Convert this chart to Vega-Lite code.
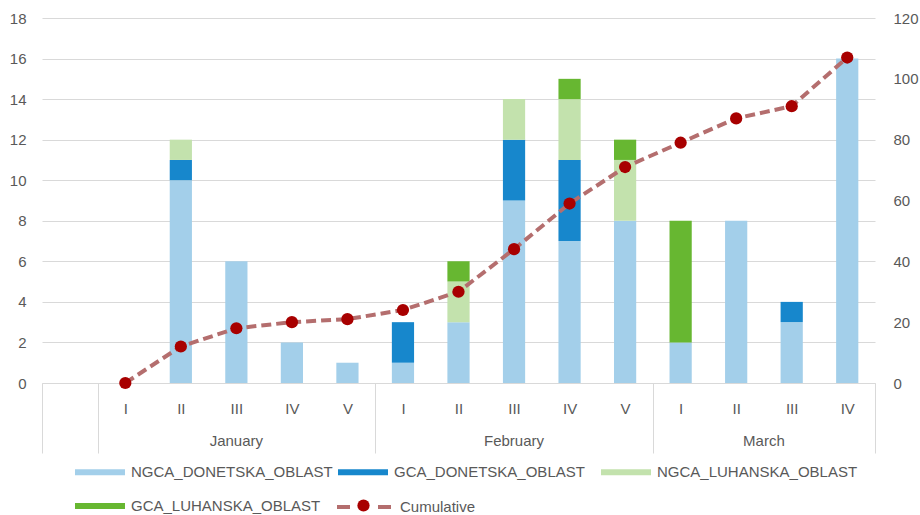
{
  "$schema": "https://vega.github.io/schema/vega-lite/v6.json",
  "width": 833,
  "height": 365,
  "autosize": {"type": "none"},
  "padding": {"left": 42, "top": 18, "right": 45, "bottom": 132},
  "background": "white",
  "config": {
    "font": "Liberation Sans",
    "view": {"stroke": null},
    "axis": {"labelColor": "#595959", "labelFontSize": 15, "labelFont": "Liberation Sans"},
    "legend": {"labelColor": "#595959", "labelFontSize": 15, "labelFont": "Liberation Sans", "padding": 0}
  },
  "datasets": {
    "bars": [
      {"cat": "January|II", "series": "NGCA_DONETSKA_OBLAST", "control": "NGCA", "region": "DONETSKA", "count": 10},
      {"cat": "January|II", "series": "GCA_DONETSKA_OBLAST", "control": "GCA", "region": "DONETSKA", "count": 1},
      {"cat": "January|II", "series": "NGCA_LUHANSKA_OBLAST", "control": "NGCA", "region": "LUHANSKA", "count": 1},
      {"cat": "January|III", "series": "NGCA_DONETSKA_OBLAST", "control": "NGCA", "region": "DONETSKA", "count": 6},
      {"cat": "January|IV", "series": "NGCA_DONETSKA_OBLAST", "control": "NGCA", "region": "DONETSKA", "count": 2},
      {"cat": "January|V", "series": "NGCA_DONETSKA_OBLAST", "control": "NGCA", "region": "DONETSKA", "count": 1},
      {"cat": "February|I", "series": "NGCA_DONETSKA_OBLAST", "control": "NGCA", "region": "DONETSKA", "count": 1},
      {"cat": "February|I", "series": "GCA_DONETSKA_OBLAST", "control": "GCA", "region": "DONETSKA", "count": 2},
      {"cat": "February|II", "series": "NGCA_DONETSKA_OBLAST", "control": "NGCA", "region": "DONETSKA", "count": 3},
      {"cat": "February|II", "series": "NGCA_LUHANSKA_OBLAST", "control": "NGCA", "region": "LUHANSKA", "count": 2},
      {"cat": "February|II", "series": "GCA_LUHANSKA_OBLAST", "control": "GCA", "region": "LUHANSKA", "count": 1},
      {"cat": "February|III", "series": "NGCA_DONETSKA_OBLAST", "control": "NGCA", "region": "DONETSKA", "count": 9},
      {"cat": "February|III", "series": "GCA_DONETSKA_OBLAST", "control": "GCA", "region": "DONETSKA", "count": 3},
      {"cat": "February|III", "series": "NGCA_LUHANSKA_OBLAST", "control": "NGCA", "region": "LUHANSKA", "count": 2},
      {"cat": "February|IV", "series": "NGCA_DONETSKA_OBLAST", "control": "NGCA", "region": "DONETSKA", "count": 7},
      {"cat": "February|IV", "series": "GCA_DONETSKA_OBLAST", "control": "GCA", "region": "DONETSKA", "count": 4},
      {"cat": "February|IV", "series": "NGCA_LUHANSKA_OBLAST", "control": "NGCA", "region": "LUHANSKA", "count": 3},
      {"cat": "February|IV", "series": "GCA_LUHANSKA_OBLAST", "control": "GCA", "region": "LUHANSKA", "count": 1},
      {"cat": "February|V", "series": "NGCA_DONETSKA_OBLAST", "control": "NGCA", "region": "DONETSKA", "count": 8},
      {"cat": "February|V", "series": "NGCA_LUHANSKA_OBLAST", "control": "NGCA", "region": "LUHANSKA", "count": 3},
      {"cat": "February|V", "series": "GCA_LUHANSKA_OBLAST", "control": "GCA", "region": "LUHANSKA", "count": 1},
      {"cat": "March|I", "series": "NGCA_DONETSKA_OBLAST", "control": "NGCA", "region": "DONETSKA", "count": 2},
      {"cat": "March|I", "series": "GCA_LUHANSKA_OBLAST", "control": "GCA", "region": "LUHANSKA", "count": 6},
      {"cat": "March|II", "series": "NGCA_DONETSKA_OBLAST", "control": "NGCA", "region": "DONETSKA", "count": 8},
      {"cat": "March|III", "series": "NGCA_DONETSKA_OBLAST", "control": "NGCA", "region": "DONETSKA", "count": 3},
      {"cat": "March|III", "series": "GCA_DONETSKA_OBLAST", "control": "GCA", "region": "DONETSKA", "count": 1},
      {"cat": "March|IV", "series": "NGCA_DONETSKA_OBLAST", "control": "NGCA", "region": "DONETSKA", "count": 16}
    ],
    "cum": [
      {"cat": "January|I", "month": "January", "period": "I", "Cumulative": 0},
      {"cat": "January|II", "month": "January", "period": "II", "Cumulative": 12},
      {"cat": "January|III", "month": "January", "period": "III", "Cumulative": 18},
      {"cat": "January|IV", "month": "January", "period": "IV", "Cumulative": 20},
      {"cat": "January|V", "month": "January", "period": "V", "Cumulative": 21},
      {"cat": "February|I", "month": "February", "period": "I", "Cumulative": 24},
      {"cat": "February|II", "month": "February", "period": "II", "Cumulative": 30},
      {"cat": "February|III", "month": "February", "period": "III", "Cumulative": 44},
      {"cat": "February|IV", "month": "February", "period": "IV", "Cumulative": 59},
      {"cat": "February|V", "month": "February", "period": "V", "Cumulative": 71},
      {"cat": "March|I", "month": "March", "period": "I", "Cumulative": 79},
      {"cat": "March|II", "month": "March", "period": "II", "Cumulative": 87},
      {"cat": "March|III", "month": "March", "period": "III", "Cumulative": 91},
      {"cat": "March|IV", "month": "March", "period": "IV", "Cumulative": 107}
    ]
  },
  "layer": [
    {
      "layer": [
        {
          "data": {"name": "bars"},
          "transform": [
            {
              "stack": "count",
              "groupby": ["cat"],
              "sort": [{"field": "region", "order": "ascending"}, {"field": "control", "order": "descending"}],
              "as": ["lo", "hi"]
            }
          ],
          "mark": {"type": "bar", "width": {"band": 0.4}},
          "encoding": {
            "x": {
              "field": "cat", "type": "nominal", "title": null,
              "scale": {
                "domain": ["start", "January|I", "January|II", "January|III", "January|IV", "January|V", "February|I", "February|II", "February|III", "February|IV", "February|V", "March|I", "March|II", "March|III", "March|IV"],
                "paddingInner": 0, "paddingOuter": 0
              },
              "axis": {
                "title": null,
                "labelAngle": 0,
                "labelExpr": "indexof(datum.label, '|') >= 0 ? split(datum.label, '|')[1] : ''",
                "domainColor": "#D9D9D9",
                "domainWidth": 1,
                "grid": false,
                "ticks": true,
                "tickBand": "extent",
                "tickSize": 70,
                "tickColor": "#D9D9D9",
                "tickWidth": 1,
                "tickOpacity": {"condition": {"test": "!datum.value || datum.value == 'start' || datum.value == 'January|V' || datum.value == 'February|V' || datum.value == 'March|IV'", "value": 1}, "value": 0},
                "labelPadding": -52
              }
            },
            "y": {
              "field": "lo", "type": "quantitative", "title": null,
              "scale": {"domain": [0, 18], "nice": false},
              "axis": {"title": null, "values": [0, 2, 4, 6, 8, 10, 12, 14, 16, 18], "domain": false, "ticks": false, "grid": true, "gridColor": "#D9D9D9", "labelPadding": 16}
            },
            "y2": {"field": "hi"},
            "color": {
              "field": "series", "type": "nominal",
              "scale": {
                "domain": ["NGCA_DONETSKA_OBLAST", "GCA_DONETSKA_OBLAST", "NGCA_LUHANSKA_OBLAST", "GCA_LUHANSKA_OBLAST"],
                "range": ["#A3CFEA", "#1787CC", "#C3E2AD", "#67B731"]
              },
              "legend": {
                "title": null, "orient": "none", "direction": "horizontal", "legendX": 33, "legendY": 441.5,
                "columns": 3, "gridAlign": "all", "columnPadding": 5, "rowPadding": 13,
                "values": ["NGCA_DONETSKA_OBLAST", "GCA_DONETSKA_OBLAST", "NGCA_LUHANSKA_OBLAST", "GCA_LUHANSKA_OBLAST"],
                "symbolType": "M-1,-0.24H3V0.24H-1Z", "symbolSize": 625, "symbolStrokeWidth": 0,
                "labelOffset": 31, "labelLimit": 400
              }
            }
          }
        },
        {
          "data": {"name": "cum"},
          "transform": [{"filter": "datum.period == 'III' && datum.month != 'March'"}],
          "mark": {"type": "text", "dy": 58, "fontSize": 15, "color": "#595959", "baseline": "middle", "align": "center"},
          "encoding": {
            "x": {"field": "cat", "type": "nominal", "bandPosition": 0.5},
            "y": {"datum": 0, "type": "quantitative"},
            "text": {"field": "month"}
          }
        },
        {
          "data": {"name": "cum"},
          "transform": [{"filter": "datum.period == 'II' && datum.month == 'March'"}],
          "mark": {"type": "text", "dy": 58, "fontSize": 15, "color": "#595959", "baseline": "middle", "align": "center"},
          "encoding": {
            "x": {"field": "cat", "type": "nominal", "bandPosition": 1},
            "y": {"datum": 0, "type": "quantitative"},
            "text": {"field": "month"}
          }
        }
      ]
    },
    {
      "layer": [
        {
          "data": {"name": "cum"},
          "mark": {"type": "line", "strokeWidth": 4, "strokeDash": [10, 5]},
          "encoding": {
            "x": {"field": "cat", "type": "nominal", "sort": null},
            "y": {
              "field": "Cumulative", "type": "quantitative", "title": null,
              "scale": {"domain": [0, 120], "nice": false},
              "axis": {"orient": "right", "title": null, "values": [0, 20, 40, 60, 80, 100, 120], "domain": false, "ticks": false, "grid": false, "labelPadding": 18}
            },
            "stroke": {
              "datum": "Cumulative",
              "scale": {"range": ["#B46E6E"]},
              "legend": {
                "title": null, "orient": "none", "legendX": 293, "legendY": 460,
                "symbolType": "stroke", "symbolSize": 2916, "symbolStrokeWidth": 4, "symbolDash": [13, 28],
                "labelOffset": 7
              }
            }
          }
        },
        {
          "data": {"name": "cum"},
          "mark": {"type": "point", "filled": true, "size": 150, "opacity": 1},
          "encoding": {
            "x": {"field": "cat", "type": "nominal", "sort": null},
            "y": {"field": "Cumulative", "type": "quantitative"},
            "fill": {
              "datum": "",
              "scale": {"range": ["#A80000"]},
              "legend": {
                "title": null, "orient": "none", "legendX": 315, "legendY": 481,
                "symbolType": "circle", "symbolSize": 150, "symbolStrokeWidth": 0,
                "labelFontSize": 1
              }
            }
          }
        }
      ]
    }
  ],
  "resolve": {"scale": {"y": "independent"}}
}
